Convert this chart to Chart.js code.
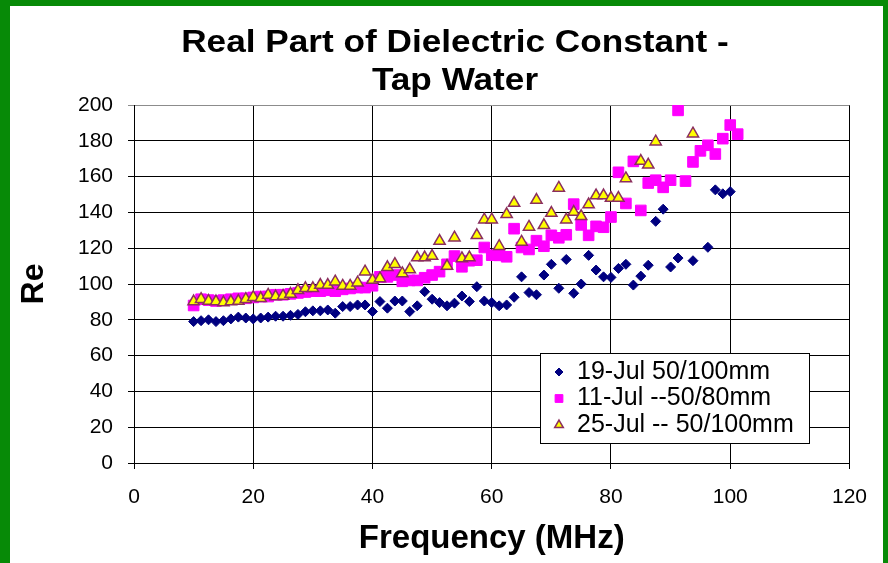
<!DOCTYPE html>
<html>
<head>
<meta charset="utf-8">
<script src="https://cdn.jsdelivr.net/npm/chart.js@4.4.0/dist/chart.umd.min.js"></script>
<style>
  html, body { margin: 0; padding: 0; }
  body { width: 888px; height: 563px; background: #078a07; position: relative; overflow: hidden; }
  #frame { position: absolute; left: 10px; top: 6px; width: 873px; height: 557px; background: #fff; }
  canvas { display: block; }
</style>
</head>
<body>
<div id="frame"><canvas id="chart" width="873" height="557"></canvas></div>
<script>
// frequency grid (MHz)
const freq = [10, 11.25, 12.5, 13.75, 15, 16.25, 17.5, 18.75, 20, 21.25,
  22.5, 23.75, 25, 26.25, 27.5, 28.75, 30, 31.25, 32.5, 33.75,
  35, 36.25, 37.5, 38.75, 40, 41.25, 42.5, 43.75, 45, 46.25,
  47.5, 48.75, 50, 51.25, 52.5, 53.75, 55, 56.25, 57.5, 58.75,
  60, 61.25, 62.5, 63.75, 65, 66.25, 67.5, 68.75, 70, 71.25,
  72.5, 73.75, 75, 76.25, 77.5, 78.75, 80, 81.25, 82.5, 83.75,
  85, 86.25, 87.5, 88.75, 90, 91.25, 92.5, 93.75, 95, 96.25,
  97.5, 98.75, 100, 101.25];

const jul19 = [79, 79.5, 80, 79, 79.5, 80.5, 81.5, 81, 80.5, 81,
  81.5, 82, 82, 82.5, 83, 84.5, 85, 85, 85.5, 83.7,
  87.4, 87.4, 88.3, 88.3, 84.6, 90.2, 86.5, 90.5, 90.5, 84.6,
  87.8, 95.7, 91.5, 89.6, 87.8, 89.3, 93.3, 90.2, 98.5, 90.5,
  89.6, 87.8, 88.3, 92.6, 104, 95.2, 94, 105, 111, 97.6,
  113.7, 94.8, 100, 116, 107.8, 104, 103.7, 108.7, 111, 99.4,
  104.4, 110.5, 135, 141.8, 109.5, 114.5, null, 113, null, 120.5,
  152.6, 150.4, 151.6, null];

const jul11 = [88, 91.5, 91, 90.5, 91, 91.5, 92, 92, 92.5, 93,
  93, 94, 94, 94.5, 95, 95.5, 96, 96, 96.5, 96,
  97, 97.5, 98, 98, 99, 104, 104, 105, 101.5, 102,
  102, 103.5, 105, 106.9, 111, 115.6, 109.6, 113, 113.3, 120.4,
  116.1, 116, 115.2, 130.9, 120.4, 119.3, 124.2, 121.1, 127.2, 125.8,
  127.5, 144.6, 133, 127.2, 132.2, 131.7, 137.4, 162.4, 145, 168.5,
  141.1, 156.4, 158, 154, 158, 197, 157.5, 168.2, 174.4, 177.5,
  172.6, 181.2, 188.8, 183.7];

const jul25 = [90.2, 91.5, 90.5, 90.2, 89.6, 90.2, 90.5, 91.5, 92.6, 92,
  93.9, 93, 93.3, 94.4, 96.5, 97.6, 97.6, 99.4, 99.4, 101.3,
  98.9, 98.9, 100.7, 106.9, 102.2, 103.1, 109.3, 111.1, 105.9, 108.1,
  114.8, 114.8, 115.6, 124, 110, 125.9, 114.3, 114.8, 127.2, 135.9,
  135.9, 121.1, 138.9, 145.2, 123.5, 131.9, 146.9, 132.8, 139.6, 153.7,
  135.9, 140.2, 137.8, 144.4, 149.4, 149.4, 148, 148, 159, null,
  168.7, 166.6, 179.5, null, null, null, null, 184, null, null,
  null, null, null, null];

const titleLines = ["Real Part of Dielectric Constant -", "Tap Water"];
const seriesLabels = ["19-Jul 50/100mm", "11-Jul --50/80mm", "25-Jul -- 50/100mm"];
const xTicks = [0, 20, 40, 60, 80, 100, 120];
const yTicks = [0, 20, 40, 60, 80, 100, 120, 140, 160, 180, 200];

const toPoints = vals => freq.map((f, i) => ({ x: f, y: vals[i] }));

const FONT = "'Liberation Sans', Arial, sans-serif";
Chart.defaults.font.family = FONT;
Chart.defaults.color = "#000";

// Excel-style title: slightly wide bold text, centred a bit left of the plot
const wideTitle = {
  id: "wideTitle",
  afterDraw(chart) {
    const ctx = chart.ctx;
    ctx.save();
    ctx.font = "bold 32px " + FONT;
    ctx.fillStyle = "#000";
    ctx.textAlign = "center";
    ctx.textBaseline = "middle";
    titleLines.forEach((t, i) => {
      ctx.save();
      ctx.translate(445, 37.5 + i * 38);
      ctx.scale(1.1, 1);
      ctx.fillText(t, 0, 0);
      ctx.restore();
    });
    ctx.restore();
  }
};

// legend box sitting inside the plot, like the Excel one
const legendBox = {
  id: "legendBox",
  afterDraw(chart) {
    const ctx = chart.ctx;
    ctx.save();
    ctx.fillStyle = "#fff";
    ctx.strokeStyle = "#000";
    ctx.lineWidth = 1;
    ctx.fillRect(530.5, 347.5, 269, 90);
    ctx.strokeRect(530.5, 347.5, 269, 90);
    ctx.font = "25px " + FONT;
    ctx.textBaseline = "middle";
    ctx.textAlign = "left";
    chart.data.datasets.forEach((ds, i) => {
      const y = 366 + i * 26.5;
      ctx.fillStyle = ds.backgroundColor;
      ctx.strokeStyle = ds.borderColor;
      ctx.lineWidth = ds.borderWidth;
      Chart.helpers.drawPoint(ctx, {
        pointStyle: ds.pointStyle,
        radius: ds.legendRadius,
        rotation: 0,
        borderWidth: ds.borderWidth
      }, 549, y);
      ctx.fillStyle = "#000";
      ctx.fillText(ds.label, 567, y);
    });
    ctx.restore();
  }
};

new Chart(document.getElementById("chart"), {
  type: "scatter",
  data: {
    datasets: [
      {
        label: seriesLabels[0],
        data: toPoints(jul19),
        pointStyle: "rectRot",
        pointRadius: 5,
        legendRadius: 4,
        backgroundColor: "#000080",
        borderColor: "#000080",
        borderWidth: 1,
        order: 2
      },
      {
        label: seriesLabels[1],
        data: toPoints(jul11),
        pointStyle: "rect",
        pointRadius: 7.5,
        legendRadius: 5.5,
        backgroundColor: "#ff00ff",
        borderColor: "#ff00ff",
        borderWidth: 1,
        order: 1
      },
      {
        label: seriesLabels[2],
        data: toPoints(jul25),
        pointStyle: "triangle",
        pointRadius: 6.5,
        legendRadius: 5,
        backgroundColor: "#ffff00",
        borderColor: "#8b2f5f",
        borderWidth: 1.5,
        order: 0
      }
    ]
  },
  options: {
    responsive: false,
    animation: false,
    layout: { padding: { left: 0, right: 26, top: 99, bottom: 0 } },
    plugins: {
      legend: { display: false },
      tooltip: { enabled: false },
      title: { display: false }
    },
    scales: {
      x: {
        type: "linear",
        min: 0,
        max: 120,
        afterBuildTicks: s => { s.ticks = xTicks.map(v => ({ value: v })); },
        afterFit: s => { s.height = 100; },
        grid: { color: "#000", lineWidth: 1, tickLength: 6, drawTicks: true },
        border: { color: "#000", width: 1 },
        ticks: { font: { size: 21 }, padding: 16, color: "#000" },
        title: {
          display: true,
          text: "Frequency (MHz)",
          font: { size: 33, weight: "bold" },
          padding: { top: 0, bottom: 4 }
        }
      },
      y: {
        type: "linear",
        min: 0,
        max: 200,
        afterBuildTicks: s => { s.ticks = yTicks.map(v => ({ value: v })); },
        afterFit: s => { s.width = 124; },
        grid: {
          color: c => (c.tick && c.tick.value === 200 ? "#8c8c8c" : "#000"),
          lineWidth: 1,
          tickLength: 6,
          drawTicks: true
        },
        border: { color: "#000", width: 1 },
        ticks: { font: { size: 21 }, padding: 15, color: "#000" },
        title: {
          display: true,
          text: "Re",
          font: { size: 32, weight: "bold" },
          padding: { top: 5, bottom: 0 }
        }
      }
    }
  },
  plugins: [wideTitle, legendBox]
});
</script>
</body>
</html>
